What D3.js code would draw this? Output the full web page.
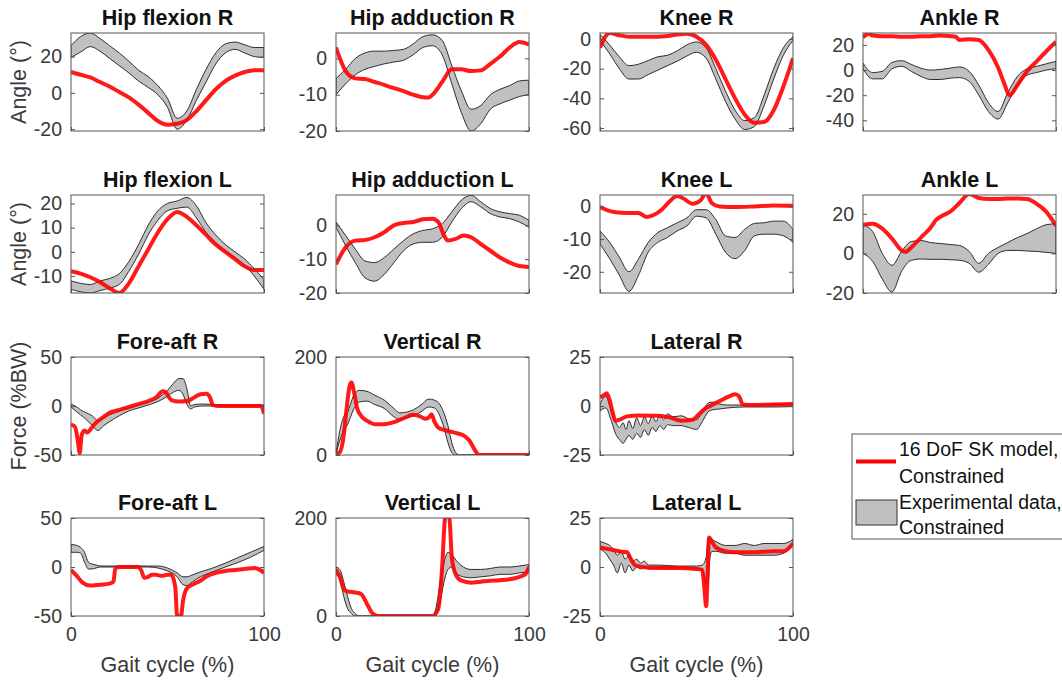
<!DOCTYPE html>
<html>
<head>
<meta charset="utf-8">
<script src="https://cdn.jsdelivr.net/npm/d3@7"></script>
<style>
  body { margin: 0; background: #fff; }
  text { font-family: "Liberation Sans", Arial, sans-serif; }
</style>
</head>
<body>
<div id="chart"></div>
<script>
// model curves: [gait %, value]; experimental bands: [gait %, lower, upper]
var hipFlexR_model = [[0,11.5],[5,10],[10,8.5],[15,6],[20,3.5],[25,0.5],[30,-2.5],[35,-6.5],[40,-11],[45,-15.5],[50,-17.5],[55,-17],[60,-15],[65,-10],[70,-4],[75,2],[80,6.5],[85,9.5],[90,11.5],[95,12.5],[100,12.5]];
var hipFlexR_band = [[0,19.5,26],[5,22.5,31],[10,25.5,33],[15,23,30],[20,19,26],[25,15,22],[30,11,17.5],[35,6.5,12.5],[40,3,9],[45,-1,4],[50,-8,-3],[55,-20,-14],[60,-15,-10],[65,-4,2],[70,6,13],[75,16,22],[80,22,27],[85,24,28],[90,22,26.5],[95,20,25],[100,19.5,25]];

var hipAddR_model = [[0,3],[5,-3.5],[10,-5.5],[15,-5.7],[20,-6.5],[25,-7.3],[30,-8.2],[35,-9],[40,-10],[45,-10.7],[48,-10.8],[50,-10],[55,-6.5],[60,-3],[65,-3],[70,-3.5],[75,-3.3],[80,-1.5],[85,0.5],[90,3],[95,4.5],[100,3.8]];
var hipAddR_band = [[0,-10,-5.5],[5,-7,-3],[10,-4.5,0],[15,-3,1.5],[20,-2.2,2],[25,-1.5,2],[30,-1,2.2],[35,-0.5,2.5],[40,1,4],[45,3,6],[50,3.5,6.5],[55,1,5],[60,-7,-2],[65,-15,-9],[70,-20,-14],[75,-18,-13],[80,-14,-10],[85,-12.5,-8.5],[90,-11.5,-7.5],[95,-10.5,-6.2],[100,-10,-6]];

var kneeR_model = [[0,-6],[3,2],[5,4],[10,2.5],[15,1.5],[20,1.5],[25,1.5],[30,1.5],[35,2],[40,3],[45,3.5],[50,1.5],[55,-4],[60,-14],[65,-27],[70,-40],[75,-51],[80,-56.5],[85,-56],[90,-48],[95,-32],[100,-13]];
var kneeR_band = [[0,-1,3],[5,-10,-4],[10,-20,-12],[15,-27,-18],[20,-27,-17],[25,-24,-14.5],[30,-21,-12],[35,-18,-11],[40,-15,-8],[45,-11.5,-4],[50,-9,-2],[55,-13,-6],[60,-27,-20],[65,-42,-35],[70,-54,-48],[75,-61,-55],[80,-59,-53],[85,-45,-38],[90,-27,-20],[95,-11,-6],[100,-1,1.5]];

var ankleR_model = [[0,26],[3,29],[5,27.5],[10,27],[15,27],[20,26.5],[25,26.5],[30,27],[35,27],[40,27.5],[45,27],[48,26.5],[50,24],[55,24.5],[60,24],[65,16],[70,2],[73,-10],[76,-20],[80,-12],[85,-1],[90,7],[95,15],[100,22.5]];
var ankleR_band = [[0,1,5.5],[5,-7,-2],[10,-7,-1],[15,1,6],[20,3,7.5],[25,-1,4.5],[30,-5,1.5],[35,-7.5,0],[40,-7.5,0.5],[45,-6.5,1.5],[50,-6,2.5],[55,-9,-1],[60,-20,-12],[65,-33,-26],[70,-39,-33],[75,-26,-18],[80,-12,-5],[85,-4,1],[90,-2,3],[95,0,5],[100,1,7]];

var hipFlexL_model = [[0,-8],[5,-9],[10,-10.5],[15,-12.5],[20,-15],[25,-17],[30,-13],[35,-6],[40,1],[45,8],[50,13.5],[55,16.5],[60,14.5],[65,11],[70,7],[75,3],[80,0],[85,-3],[90,-6],[95,-7.5],[100,-7.5]];
var hipFlexL_band = [[0,-15.5,-12],[5,-16.5,-13],[10,-17,-13.5],[15,-16,-12],[20,-15,-11],[25,-13.5,-9],[30,-8,-4],[35,-1,3],[40,7,11],[45,13,17],[50,17,20],[55,18,21],[60,18.5,22.5],[65,14,19],[70,8,12],[75,3.5,7],[80,0,3],[85,-2.5,0],[90,-5.5,-3],[95,-10,-7],[100,-15.5,-11.5]];

var hipAddL_model = [[0,-11.5],[5,-6.5],[10,-4.5],[15,-4.3],[20,-3.5],[25,-2],[30,0],[35,0.7],[40,1],[45,1.8],[50,2],[53,1],[56,-3],[58,-4.5],[62,-4],[66,-3],[70,-3.5],[75,-5.5],[80,-7.5],[85,-9.5],[90,-11],[95,-12],[100,-12.3]];
var hipAddL_band = [[0,-0.5,1],[5,-6,-3],[10,-11,-7],[15,-15.5,-10.5],[20,-16.5,-11],[25,-14.5,-9.5],[30,-11,-7],[35,-7.5,-4.5],[40,-5.5,-2.5],[45,-5,-1.5],[50,-5,-1],[55,-3.5,0.5],[60,1,4],[65,5,7.5],[70,7,8.9],[75,5.5,7],[80,3.5,5],[85,2.5,4],[90,2,3.5],[95,1,3],[100,-0.5,1.5]];

var kneeL_model = [[0,-0.2],[4,-1.2],[8,-1.8],[14,-2],[20,-2],[24,-3.2],[27,-2.8],[32,-1],[36,1.5],[40,3.2],[43,2.5],[48,0.8],[52,1.8],[55,4],[58,1],[62,0],[70,-0.2],[80,0],[90,0.3],[100,0.2]];
var kneeL_band = [[0,-11.5,-7.5],[5,-16,-11],[10,-21,-15.5],[15,-26,-20],[20,-21,-16],[25,-14,-11],[30,-11,-8],[35,-9.5,-6.5],[40,-7.5,-5],[45,-6,-3.5],[50,-3,-1],[55,-3.5,-1],[60,-8.5,-4],[65,-14,-9],[70,-16,-9.5],[75,-13.5,-7],[80,-9,-5.2],[85,-8.5,-5],[90,-8.5,-4.5],[95,-9,-4.5],[100,-11,-7]];

var ankleL_model = [[0,14.5],[5,15],[10,12.5],[15,7.5],[20,1.5],[22,0.8],[25,3],[30,8],[35,13],[38,17],[42,19.5],[45,21],[50,25.5],[55,30],[60,28],[65,27.5],[70,27.5],[75,27.7],[80,27.7],[85,27.5],[90,25],[95,21],[100,14]];
var ankleL_band = [[0,0,14.5],[5,-4,11],[10,-13,0],[15,-19.5,-6],[20,-9,1],[25,-3.5,6],[30,-2.8,6.5],[35,-3,5.5],[40,-3,5],[45,-3.2,4.5],[50,-3.5,4],[55,-5,1],[60,-9.5,-5],[65,-5.5,0],[70,0,3],[75,1.5,5.5],[80,1.5,8],[85,1.2,10],[90,1,12.5],[95,0.5,14.5],[100,0,15]];

var foreAftR_model = [[0,-19],[2,-21],[3.5,-35],[4.5,-48],[5.5,-30],[7,-25],[8.5,-27],[10,-24],[13,-17],[17,-11],[20,-7],[25,-4],[30,-1],[35,2],[40,5],[44,8.5],[47.5,15],[49,14],[52,6],[56,4.5],[60,5],[64,9],[67,12],[70,12.5],[72,9],[73.5,1],[76,0],[85,0],[95,0],[98.5,0],[100,-8]];
var foreAftR_band = [[0,-1,2],[3,-6,-1],[5,-9,-4],[8,-14,-7],[11,-20,-10],[14,-25,-15],[17,-20,-12],[20,-16,-9],[25,-10,-5],[30,-5,-2],[35,-2,1],[40,1,4],[45,4.5,8],[50,10,16],[53,14,23],[56,16,28],[58,12,28],[60,2,18],[62,-3,0],[64,-1,1.5],[68,0,2],[75,0,1.5],[85,0,1],[100,0,1]];

var vertR_model = [[0,3],[2,6],[4,40],[5.5,95],[7,140],[8,148],[9.5,125],[11,95],[13,80],[16,70],[20,63],[25,63],[30,67],[35,75],[40,82],[44,78],[46,74],[48,76],[49.5,83],[51,68],[53,56],[57,50],[62,45],[66,40],[69,30],[72,10],[74,0],[100,0]];
var vertR_band = [[0,2,3],[2,30,50],[4,50,78],[6,62,88],[9,92,120],[12,108,132],[16,110,130],[20,103,122],[25,95,112],[30,78,95],[33,72,86],[37,76,88],[40,80,92],[44,88,102],[48,98,114],[51,96,112],[54,78,102],[56,55,85],[58,25,60],[60,5,25],[62,0,5],[64,0,0],[100,0,0]];

var latR_model = [[0,4.5],[2,5.5],[3.5,6.5],[5,3],[6.5,-3],[8,-7.5],[10,-7],[14,-5.3],[20,-4.8],[30,-5],[36,-5.8],[42,-7.5],[48,-7],[51,-4.5],[54,-1.7],[58,0.5],[62,2.5],[66,4.5],[70,6],[72,5],[74,0.8],[80,0.5],[90,0.8],[100,1]];
var latR_band = [[0,-2.5,1],[3,-1,5],[6,-8,-3],[8,-14,-8],[10,-17,-11],[12,-19,-8.5],[13.5,-17,-12],[15,-15,-7.5],[17,-17,-11.5],[19,-14,-6],[21,-16,-10],[23,-12,-5.5],[25,-15,-9],[27,-11,-5],[29,-13,-8],[31,-10,-4.5],[33,-12,-7],[35,-9.5,-4],[38,-10,-5.5],[42,-10,-5],[46,-11,-6.5],[50,-12,-7],[53,-8,-3],[56,-3,1.5],[58,-2,2],[62,-1.5,1],[66,-1,0.5],[75,-0.5,0.5],[90,-0.5,0.8],[100,-0.3,1]];

var foreAftL_model = [[0,-3],[3,-9],[6,-16],[10,-19],[15,-18],[20,-17],[22,-15],[23,-1],[25,0],[30,0],[35,0],[36.5,-4],[38,-11],[40,-10],[42,-8],[44,-8],[47,-9],[50,-8],[52,-8],[54,-20],[55,-50],[57,-50],[58,-35],[60,-22],[63,-18],[67,-14],[70,-10],[75,-6],[80,-4],[85,-3],[90,-2],[95,-1],[98,-3],[100,-6]];
var foreAftL_band = [[0,15,23],[3,15,22],[5,14,20],[7,5,15],[9,-2,5],[11,-2,3],[13,-1,2],[15,0,1],[25,0,1],[40,0,1],[45,-1,1],[50,-4,-1],[55,-10,-6],[58,-18,-10],[60,-19,-10],[63,-15,-8],[67,-10,-5],[72,-6,-2],[80,0,4],[87,5,10],[93,10,15],[100,17,21]];

var vertL_model = [[0,95],[2,80],[4,55],[6,50],[10,48],[13,45],[16,25],[19,5],[22,0],[50,0],[53,15],[55,100],[56.5,200],[58,215],[59,190],[60,120],[62,85],[65,72],[70,68],[75,70],[80,72],[85,73],[90,75],[95,80],[98,85],[100,100]];
var vertL_band = [[0,85,100],[2,75,95],[4,40,70],[6,15,40],[8,5,15],[10,0,5],[12,0,0],[50,0,0],[52,5,20],[54,30,70],[56,70,110],[58,95,130],[60,100,125],[63,85,110],[66,80,100],[70,78,95],[75,80,95],[80,82,97],[85,85,100],[90,85,100],[95,88,102],[100,90,105]];

var latL_model = [[0,10],[5,9],[10,8],[14,7.5],[16,4],[18,1],[22,0],[30,-0.5],[40,-0.5],[50,-1],[53,-1.5],[54,-10],[55,-20],[55.7,-5],[56.5,15],[58,13],[60,10],[65,8],[70,7.5],[80,7.5],[90,8],[95,8],[100,12]];
var latL_band = [[0,9,13],[3,7,12],[5,4,11],[7,1,9],[9,-3,6],[11,2,8],[13,-3,4],[15,1,6],[17,-2,3],[19,0,4],[21,-1,2],[23,0,3],[25,-1,1],[30,-0.5,1],[40,-0.5,0.5],[50,-0.5,0.5],[53,-2,1],[55,-9,5],[56,-8,14],[57,5,15],[58,8,14],[60,8,13],[65,7,11],[70,7,11],[75,6,12],[80,6,11],[85,6,12],[90,6,12],[95,7,12],[100,11,14]];

var titles = ["Hip flexion R", "Hip adduction R", "Knee R", "Ankle R",
              "Hip flexion L", "Hip adduction L", "Knee L", "Ankle L",
              "Fore-aft R", "Vertical R", "Lateral R",
              "Fore-aft L", "Vertical L", "Lateral L"];
var yLimits = [[-21,33],[-20,7],[-62,4],[-48.5,29.5],
               [-17,23.5],[-20,9],[-26.5,3.5],[-20,29.5],
               [-50,50],[0,200],[-25,25],
               [-50,50],[0,200],[-25,25]];
var yTicks = [[-20,0,20],[-20,-10,0],[-60,-40,-20,0],[-40,-20,0,20],
              [-10,0,10,20],[-20,-10,0],[-20,-10,0],[-20,0,20],
              [-50,0,50],[0,200],[-25,0,25],
              [-50,0,50],[0,200],[-25,0,25]];
var xTicks = [0, 100];
var rowLabels = ["Angle (°)", "Angle (°)", "Force (%BW)"];
var legendLabels = [["16 DoF SK model,", "Constrained"], ["Experimental data,", "Constrained"]];

var models = [hipFlexR_model, hipAddR_model, kneeR_model, ankleR_model,
              hipFlexL_model, hipAddL_model, kneeL_model, ankleL_model,
              foreAftR_model, vertR_model, latR_model,
              foreAftL_model, vertL_model, latL_model];
var bands = [hipFlexR_band, hipAddR_band, kneeR_band, ankleR_band,
             hipFlexL_band, hipAddL_band, kneeL_band, ankleL_band,
             foreAftR_band, vertR_band, latR_band,
             foreAftL_band, vertL_band, latL_band];

// layout
var W = 1062, H = 683;
var colLeft = [71, 336, 600, 863];
var rowTop = [33, 195, 357, 518];
var pw = 193, ph = 98;

var svg = d3.select("#chart").append("svg")
  .attr("width", W).attr("height", H);

var x = d3.scaleLinear().domain([0, 100]).range([0, pw]);

for (var i = 0; i < titles.length; i++) {
  var row = i < 8 ? Math.floor(i / 4) : (i < 11 ? 2 : 3);
  var col = i < 8 ? i % 4 : (i < 11 ? i - 8 : i - 11);
  var y = d3.scaleLinear().domain(yLimits[i]).range([ph, 0]);

  var g = svg.append("g")
    .attr("transform", "translate(" + colLeft[col] + "," + rowTop[row] + ")");

  g.append("clipPath").attr("id", "clip" + i)
    .append("rect").attr("width", pw).attr("height", ph);

  var plot = g.append("g").attr("clip-path", "url(#clip" + i + ")");

  var area = d3.area()
    .x(function(d) { return x(d[0]); })
    .y0(function(d) { return y(d[1]); })
    .y1(function(d) { return y(d[2]); })
    .curve(d3.curveMonotoneX);

  plot.append("path")
    .datum(bands[i])
    .attr("d", area)
    .style("fill", "#c0c0c0")
    .style("stroke", "#1a1a1a")
    .style("stroke-width", 0.9);

  var line = d3.line()
    .x(function(d) { return x(d[0]); })
    .y(function(d) { return y(d[1]); })
    .curve(d3.curveMonotoneX);

  plot.append("path")
    .datum(models[i])
    .attr("d", line)
    .style("fill", "none")
    .style("stroke", "#ff0000")
    .style("stroke-opacity", 0.9)
    .style("stroke-width", 4)
    .style("stroke-linejoin", "round");

  // axes, ticks pointing inward like the original
  var left = g.append("g")
    .call(d3.axisLeft(y).tickValues(yTicks[i]).tickSize(-4).tickPadding(9).tickFormat(d3.format("d")));
  var right = g.append("g").attr("transform", "translate(" + pw + ",0)")
    .call(d3.axisRight(y).tickValues(yTicks[i]).tickSize(-4).tickFormat(""));
  var bottom = g.append("g").attr("transform", "translate(0," + ph + ")")
    .call(d3.axisBottom(x).tickValues(xTicks).tickSize(-4).tickPadding(11)
      .tickFormat(row == 3 ? d3.format("d") : ""));

  [left, right, bottom].forEach(function(a) {
    a.select(".domain").remove();
    a.selectAll("line").style("stroke", "#555");
    a.selectAll("text")
      .style("font-family", '"Liberation Sans", Arial, sans-serif')
      .style("font-size", "19.5px")
      .style("fill", "#3a3a3a");
  });
  left.selectAll("text").text(function(d) { return d < 0 ? "-" + Math.abs(d) : d; });
  bottom.selectAll("text").attr("dy", "0.71em");

  g.append("rect")
    .attr("width", pw).attr("height", ph)
    .style("fill", "none")
    .style("stroke", "#555")
    .style("stroke-width", 1);

  g.append("text")
    .attr("x", pw / 2).attr("y", -8)
    .attr("text-anchor", "middle")
    .style("font-size", "21.5px")
    .style("font-weight", "bold")
    .style("fill", "#111")
    .text(titles[i]);

  if (col == 0 && row < 3) {
    g.append("text")
      .attr("transform", "translate(" + (26 - colLeft[0]) + "," + (ph / 2) + ") rotate(-90)")
      .attr("text-anchor", "middle")
      .style("font-size", "21.5px")
      .style("fill", "#3a3a3a")
      .text(rowLabels[row]);
  }
  if (row == 3) {
    g.append("text")
      .attr("x", pw / 2).attr("y", ph + 56)
      .attr("text-anchor", "middle")
      .style("font-size", "21.5px")
      .style("fill", "#3a3a3a")
      .text("Gait cycle (%)");
  }
}

// legend
var lg = svg.append("g").attr("transform", "translate(852,434)");
lg.append("rect").attr("width", 230).attr("height", 105)
  .style("fill", "#fff").style("stroke", "#555").style("stroke-width", 1);
lg.append("line").attr("x1", 4).attr("x2", 44).attr("y1", 27.5).attr("y2", 27.5)
  .style("stroke", "#ff0000").style("stroke-width", 4);
lg.append("rect").attr("x", 4).attr("y", 66).attr("width", 41).attr("height", 25)
  .style("fill", "#c0c0c0").style("stroke", "#333").style("stroke-width", 1);
var lineY = [[22, 48.5], [75, 99.5]];
legendLabels.forEach(function(lines, k) {
  lines.forEach(function(t, j) {
    lg.append("text").attr("x", 47).attr("y", lineY[k][j])
      .style("font-size", "19.5px").style("fill", "#111").text(t);
  });
});
</script>
</body>
</html>
